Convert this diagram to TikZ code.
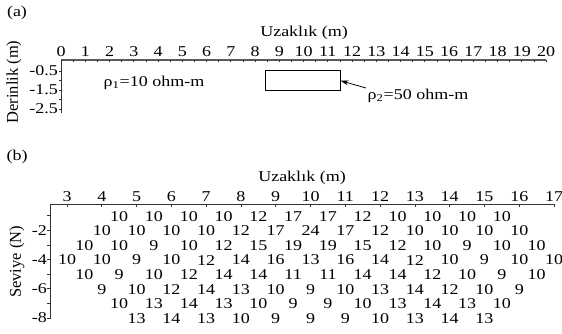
\documentclass[tikz,border=0pt]{standalone}
\usepackage{fontspec}
\setmainfont{Liberation Serif}
\usetikzlibrary{arrows.meta}
\tikzset{
  lbl/.style={font=\fontsize{15}{15}\selectfont, inner sep=0pt, xscale=1.2},
  vlbl/.style={font=\fontsize{16.5}{16.5}\selectfont, inner sep=0pt, rotate=90},
  val/.style={font=\fontsize{15}{15}\selectfont, inner sep=0pt, xscale=1.2, anchor=center},
  thinaxis/.style={line width=0.8pt, black!80},
  thickaxis/.style={line width=1.8pt, black!65},
  tickmark/.style={line width=0.7pt, black!80},
}
\begin{document}
\begin{tikzpicture}[x=1pt,y=-1pt]
\useasboundingbox (0,0) rectangle (562,334);

% ---------- panel (a): model ----------
\node[lbl] (tagA) at (17,13) {(a)};
\node[lbl, anchor=base] (uzA) at (304,37) {Uzaklık (m)};
\coordinate (a0) at (61,60);
\coordinate (a20) at (546,60);
\coordinate (aBot) at (61,113);
\draw[thickaxis] (a0) -- (a20);
\foreach \i in {0,...,40} {
  \draw[tickmark] ({61+12.125*\i},60) -- ++(0,2.5);
}
\foreach \i in {0,...,20} {
  \node[lbl, anchor=base] (ax\i) at ({61+24.25*\i},57) {\i};
}
\draw[thinaxis] (a0) -- (aBot);
\foreach \d in {1,...,5} {
  \draw[tickmark] (61,{61.5+9.5*\d}) -- ++(-2.5,0);
}
\node[lbl, anchor=east] (d1) at (58,71) {-0.5};
\node[lbl, anchor=east] (d2) at (58,90) {-1.5};
\node[lbl, anchor=east] (d3) at (58,109) {-2.5};
\node[vlbl] (depth) at (14,82) {Derinlik (m)};

\node[lbl] (rho1) at (154,83) {ρ\textsubscript{1}=10 ohm-m};
\node[draw, line width=0.8pt, minimum width=74.3pt, minimum height=20pt, inner sep=0pt] (blk) at (302.9,80.7) {};
\node[lbl] (rho2) at (418,96) {ρ\textsubscript{2}=50 ohm-m};
\coordinate (tail) at (366,88);
\draw[line width=0.8pt, -{Stealth[length=8pt,width=5pt]}] (tail) -- (blk.east);

% ---------- panel (b): pseudosection ----------
\node[lbl] (tagB) at (17,157) {(b)};
\node[lbl, anchor=base] (uzB) at (302,181) {Uzaklık (m)};
\coordinate (b0) at (50,204);
\coordinate (b1) at (555,204);
\coordinate (bBot) at (50,319);
\draw[thinaxis] (b0) -- (b1);
\draw[thinaxis] (b0) -- (bBot);
\foreach \u in {3,...,17} {
  \draw[tickmark] ({67+34.79*(\u-3)},204) -- ++(0,2.5);
  \node[lbl, anchor=base] (bx\u) at ({67+34.79*(\u-3)},201) {\u};
}
\foreach \k in {1,...,8} {
  \draw[tickmark] (50,{201.1+14.61*\k}) -- ++(-3,0);
}
\foreach \k in {2,4,6,8} {
  \node[lbl, anchor=east] (lev\k) at (47,{201.1+14.61*\k}) {-\k};
}
\node[vlbl] (level) at (17,262) {Seviye (N)};

\foreach \k/\s/\vals in {
  1/4.5/{10,10,10,10,12,17,17,12,10,10,10,10},
  2/4/{10,10,10,10,12,17,24,17,12,10,10,10,10},
  3/3.5/{10,10,9,10,12,15,19,19,15,12,10,9,10,10},
  4/3/{10,10,9,10,12,14,16,13,16,14,12,10,9,10,10},
  5/3.5/{10,9,10,12,14,14,11,11,14,14,12,10,9,10},
  6/4/{9,10,12,14,13,10,9,10,13,14,12,10,9},
  7/4.5/{10,13,14,13,10,9,9,10,13,14,13,10},
  8/5/{13,14,13,10,9,9,9,10,13,14,13}} {
  \foreach \v [count=\i from 0] in \vals {
    \node[val] (v-\k-\i) at ({67+34.79*(\s+\i-3)},{201.6+14.61*\k}) {\v};
  }
}
\end{tikzpicture}
\end{document}
